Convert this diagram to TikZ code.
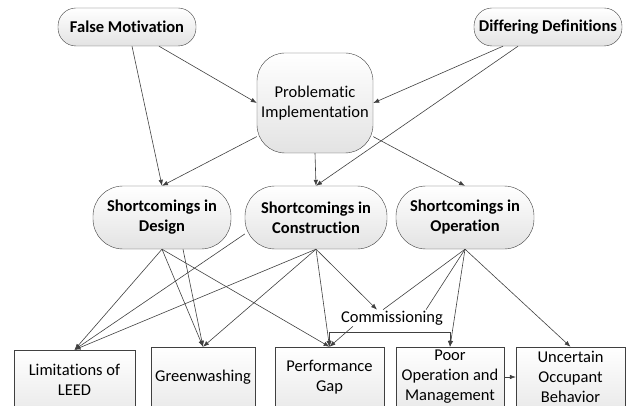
\documentclass[tikz,border=0pt]{standalone}
\usepackage{fontspec}
\setmainfont{Carlito}[RawFeature=-liga]
\usepackage{tikz}
\usetikzlibrary{arrows.meta,positioning}
\definecolor{edgegray}{HTML}{404040}
\newcommand{\figfont}{\fontsize{16.5}{20}\selectfont}
\tikzset{
  ftop/.style={draw=edgegray, rounded corners=18pt, top color=white, bottom color=black!11, align=center, font=\figfont\bfseries, inner sep=2pt, minimum height=38pt},
  fmid/.style={draw=edgegray, rounded corners=30pt, top color=white, bottom color=black!11, align=center, font=\figfont\bfseries, inner sep=2pt, minimum height=63pt},
  fimp/.style={draw=edgegray, rounded corners=28pt, top color=white, bottom color=black!11, align=center, inner sep=2pt, minimum width=116pt, minimum height=100pt},
  fbox/.style={draw=edgegray, top color=white, bottom color=black!8, align=center, inner sep=2pt, minimum height=60pt},
  farr/.style={-{Latex[length=6pt,width=4.5pt]}, edgegray, line width=0.6pt},
  fline/.style={edgegray, line width=0.6pt}
}

\begin{document}
\begin{tikzpicture}[x=1pt, y=-1pt, font=\figfont]
\clip (0,0) rectangle (626,406);
% causes
\node[ftop, minimum width=138pt] (fm) at (127,27) {False Motivation};
\node[ftop, minimum width=148pt] (dd) at (548,27) {Differing Definitions};
\node[fimp] (pi) at (315,103) {Problematic\\Implementation};
% shortcomings
\node[fmid, minimum width=138pt] (sd) at (162,217.5) {Shortcomings in\\Design};
\node[fmid, minimum width=142pt] (sc) at (316,217.5) {Shortcomings in\\Construction};
\node[fmid, minimum width=138pt] (so) at (465,217.5) {Shortcomings in\\Operation};
% consequences
\node[fbox, minimum width=121pt] (lim) at (74.5,380) {Limitations of\\LEED};
\node[fbox, minimum width=104pt] (gw) at (203,377) {Greenwashing};
\node[fbox, minimum width=109pt] (pg) at (329.5,377) {Performance\\Gap};
\node[fbox, minimum width=108pt] (pom) at (450,377) {Poor\\Operation and\\Management};
\node[fbox, minimum width=109pt] (uob) at (570.5,377) {Uncertain\\Occupant\\Behavior};
\node[inner sep=1pt] (com) at (392,318) {Commissioning};

% top level
\draw[farr] ([xshift=32pt]fm.south) -- (pi.west);
\draw[farr] ([xshift=5pt]fm.south) -- (sd.north);
\draw[farr] ([xshift=-45pt]dd.south) -- (pi.east);
\draw[farr] ([xshift=-30pt]dd.south) -- (sc.north);
\draw[farr] (pi.south) -- (sc.north);
\draw[farr] (pi.210) -- (sd.north);
\draw[farr] (pi.330) -- (so.north);

% design
\draw[farr] (sd.south) -- (lim.north);
\draw[farr] (sd.south) -- (gw.north);
\draw[farr] ([xshift=21pt]sd.south) -- (gw.north);
\draw[farr] (sd.south) -- (pg.north);
% construction
\draw[farr] (sc.193) -- (lim.north);
\draw[farr] (sc.south) -- (lim.north);
\draw[farr] (sc.south) -- (gw.north);
\draw[farr] (sc.south) -- (pg.north);
\draw[farr] (sc.south) -- ([xshift=-15pt]com.north);
% operation
\draw[fline] (so.south) -- ([xshift=-9pt]com.north);
\draw[fline] (so.south) -- ([xshift=34pt]com.north);
\draw[farr] (so.south) -- (pom.north);
\draw[farr] (so.south) -- (uob.north);
% commissioning
\coordinate (brk) at (390,332);
\draw[farr] ([xshift=-39pt]com.south) -- (pg.north);
\draw[farr] (brk) -| (pg.north);
\draw[farr] (brk) -| (pom.north);
\draw[farr] (pom) -- (uob);
\end{tikzpicture}
\end{document}
